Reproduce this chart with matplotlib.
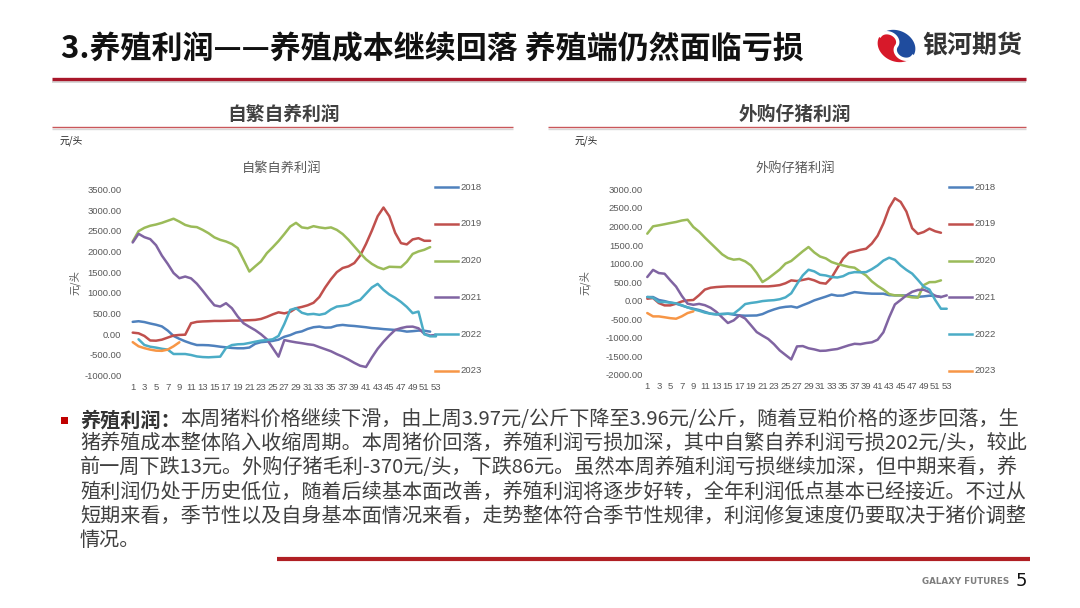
import matplotlib
matplotlib.use("Agg")
import matplotlib.pyplot as plt
import numpy as np
from matplotlib.lines import Line2D
from matplotlib.patches import Rectangle, Polygon
from matplotlib.transforms import Affine2D

W, H = 1080, 608
CJK = ['Noto Sans CJK SC', 'DejaVu Sans']
plt.rcParams['font.family'] = CJK

# ---------------- data ----------------
years = ['2018', '2019', '2020', '2021', '2022', '2023']
weeks = list(range(1, 54))
week_ticks = list(range(1, 54, 2))
nan = np.nan

# 自繁自养利润 (元/头)
self_2018 = [300, 315, 295, 260, 230, 190, 90, -40, -110, -170, -220, -260, -260, -265, -280, -300,
             -315, -330, -338, -338, -320, -230, -190, -177, -160, -130, -60, -20, 40, 70, 130, 170,
             185, 160, 165, 210, 226, 210, 200, 185, 170, 150, 140, 125, 115, 105, 90, 64, 75, 89, 85, 64]
self_2019 = [40, 24, -40, -150, -155, -130, -80, -30, -16, -10, 266, 300, 310, 315, 322, 322, 325, 330,
             330, 335, 340, 347, 370, 420, 480, 530, 505, 540, 629, 660, 700, 760, 900, 1130, 1330, 1500,
             1600, 1640, 1720, 1900, 2180, 2500, 2850, 3060, 2850, 2450, 2200, 2170, 2290, 2320, 2257, 2257]
self_2020 = [2240, 2490, 2570, 2620, 2650, 2690, 2740, 2790, 2720, 2640, 2600, 2587, 2520, 2440, 2340,
             2280, 2240, 2180, 2080, 1800, 1515, 1640, 1760, 1958, 2100, 2250, 2420, 2600, 2690, 2580,
             2560, 2610, 2580, 2560, 2580, 2520, 2420, 2280, 2120, 1960, 1810, 1700, 1620, 1572, 1630,
             1625, 1620, 1750, 1940, 2000, 2040, 2104]
self_2021 = [2216, 2426, 2345, 2297, 2150, 1900, 1700, 1480, 1354, 1394, 1350, 1220, 1050, 870, 700, 669,
             750, 630, 430, 266, 180, 100, 0, -121, -330, -540, -140, -170, -195, -215, -240, -258, -310,
             -360, -410, -480, -540, -610, -690, -760, -790, -560, -350, -180, -30, 105, 150, 180, 185,
             145, 10, -30, -16]
self_2022 = [nan, -121, -258, -300, -322, -350, -370, -476, -476, -476, -500, -535, -550, -556, -548, -540,
             -330, -260, -242, -236, -210, -180, -153, -140, -121, -40, 250, 588, 630, 520, 480, 492, 470,
             500, 600, 669, 685, 710, 780, 830, 980, 1130, 1217, 1072, 960, 880, 780, 660, 510, 548, 0,
             -50, -50]
self_2023 = [-190, -290, -335, -370, -395, -400, -370, -290, -193]

# 外购仔猪利润 (元/头)
buy_2018 = [99, 99, 20, -10, -50, -80, -130, -180, -216, -250, -300, -350, -365, -362, -350, -375, -395,
            -403, -400, -397, -360, -290, -235, -189, -165, -153, -185, -120, -60, 10, 60, 110, 165, 135,
            140, 190, 233, 215, 200, 190, 189, 189, 150, 144, 144, 140, 120, 105, 117, 135, 130, 99]
buy_2019 = [54, 72, -63, -126, -126, -80, -20, 9, 20, 150, 300, 350, 368, 378, 386, 386, 386, 386, 386,
            386, 386, 386, 400, 420, 470, 548, 530, 560, 593, 548, 480, 460, 620, 880, 1131, 1290, 1330,
            1370, 1400, 1540, 1750, 2080, 2500, 2760, 2660, 2400, 1950, 1800, 1850, 1940, 1870, 1830]
buy_2020 = [1805, 2003, 2030, 2060, 2092, 2120, 2160, 2182, 1985, 1860, 1700, 1550, 1400, 1250, 1150,
            1105, 1123, 1060, 950, 750, 503, 600, 720, 840, 1000, 1070, 1200, 1330, 1446, 1300, 1190,
            1140, 1042, 990, 950, 910, 889, 780, 680, 520, 400, 300, 180, 144, 144, 120, 90, 81, 420,
            500, 503, 548]
buy_2021 = [638, 830, 745, 727, 548, 380, 130, -80, -110, -85, -120, -190, -300, -450, -600, -530, -395,
            -480, -660, -844, -940, -1030, -1170, -1338, -1460, -1580, -1230, -1221, -1280, -1310, -1350,
            -1345, -1320, -1300, -1250, -1200, -1160, -1170, -1140, -1120, -1050, -850, -450, -100, 20,
            144, 240, 290, 296, 230, 130, 99, 144]
buy_2022 = [100, 81, -36, -36, -50, -70, -120, -180, -230, -270, -320, -350, -368, -355, -350, -350, -230,
            -90, -60, -40, -10, 5, 15, 40, 90, 200, 450, 682, 835, 790, 700, 680, 638, 625, 660, 740, 770,
            765, 770, 850, 950, 1080, 1158, 1100, 950, 830, 730, 560, 380, 300, 20, -216, -216]
buy_2023 = [-332, -422, -422, -445, -470, -485, -420, -332, -287]

series_colors = ['#4F81BD', '#C0504D', '#9BBB59', '#8064A2', '#4BACC6', '#F79646']

title_main = '3.养殖利润——养殖成本继续回落 养殖端仍然面临亏损'
sub_left = '自繁自养利润'
sub_right = '外购仔猪利润'
unit = '元/头'
para_bold = '养殖利润：'
para_lines = [
    '本周猪料价格继续下滑，由上周3.97元/公斤下降至3.96元/公斤，随着豆粕价格的逐步回落，生',
    '猪养殖成本整体陷入收缩周期。本周猪价回落，养殖利润亏损加深，其中自繁自养利润亏损202元/头，较此',
    '前一周下跌13元。外购仔猪毛利-370元/头，下跌86元。虽然本周养殖利润亏损继续加深，但中期来看，养',
    '殖利润仍处于历史低位，随着后续基本面改善，养殖利润将逐步好转，全年利润低点基本已经接近。不过从',
    '短期来看，季节性以及自身基本面情况来看，走势整体符合季节性规律，利润修复速度仍要取决于猪价调整',
    '情况。',
]

# ---------------- figure ----------------
fig = plt.figure(figsize=(W / 100, H / 100), dpi=100)
fig.patch.set_facecolor('white')


def fx(x):
    return x / W


def fy(y):
    return 1 - y / H


def hline(x0, x1, y, color, lw):
    fig.add_artist(Line2D([fx(x0), fx(x1)], [fy(y), fy(y)], transform=fig.transFigure,
                          color=color, lw=lw, solid_capstyle='butt'))


def text(x, y, s, **kw):
    return fig.text(fx(x), fy(y), s, **kw)


# header
text(61, 49, title_main, fontsize=22.3, fontweight='black', color='#111111', va='center', ha='left')
hline(52, 1026, 81.5, '#cfcfcf', 1.2)
hline(52, 1026, 79.3, '#A8172A', 2.4)

# logo
lax = fig.add_axes([fx(877), fy(63), fx(916) - fx(877), fy(29) - fy(63)])
lax.set_xlim(-1.05, 1.05)
lax.set_ylim(-1.05, 1.05)
lax.axis('off')
t1 = np.linspace(np.pi / 2, -np.pi / 2, 40)
b1 = np.c_[0.5 * np.cos(t1), 0.5 + 0.5 * np.sin(t1)]
t2 = np.linspace(np.pi / 2, 3 * np.pi / 2, 40)
b2 = np.c_[0.5 * np.cos(t2), -0.5 + 0.5 * np.sin(t2)]
boundary = np.vstack([b1, b2])
tl = np.linspace(3 * np.pi / 2, np.pi / 2, 60)
tr = np.linspace(-np.pi / 2, np.pi / 2, 60)
red_poly = np.vstack([boundary, np.c_[np.cos(tl), np.sin(tl)]])
blue_poly = np.vstack([boundary, np.c_[np.cos(tr), np.sin(tr)]])
rot = Affine2D().rotate_deg(50).skew_deg(-10, 0) + lax.transData
lax.add_patch(Polygon(red_poly, closed=True, facecolor='#D7192A', edgecolor='none', transform=rot))
lax.add_patch(Polygon(blue_poly, closed=True, facecolor='#1F4C9E', edgecolor='none', transform=rot))
lax.plot(boundary[:, 0], boundary[:, 1], color='white', lw=2.4, transform=rot)
text(922, 45.5, '银河期货', fontsize=18, fontweight='bold', color='#333333', va='center', ha='left')

# sub headers
text(284, 114, sub_left, fontsize=13.5, fontweight='bold', color='#404040', ha='center', va='center')
text(795, 114, sub_right, fontsize=13.5, fontweight='bold', color='#404040', ha='center', va='center')
for x0, x1 in [(52, 513), (548, 1026)]:
    hline(x0, x1, 128.5, '#d9d9d9', 1.0)
    hline(x0, x1, 127, '#C9575A', 1.0)
text(60, 141, unit, fontsize=7, color='#222222', ha='left', va='center')
text(575, 141, unit, fontsize=7, color='#222222', ha='left', va='center')


def draw_chart(box, ylim, ystep, data, title, title_x, ylab_x, legend_x, ypad):
    l, r, t, b = box
    ax = fig.add_axes([fx(l), fy(b), fx(r) - fx(l), fy(t) - fy(b)])
    ax.patch.set_alpha(0)
    for vals, c in zip(data, series_colors):
        ax.plot(weeks[:len(vals)], vals, color=c, lw=1.8, solid_joinstyle='round', solid_capstyle='round')
    ax.set_xlim(0.5, 53.5)
    ax.set_ylim(*ylim)
    yt = list(range(ylim[0], ylim[1] + 1, ystep))
    ax.set_yticks(yt)
    ax.set_yticklabels([f'{v:.2f}' for v in yt], fontfamily='Liberation Sans')
    ax.set_xticks(week_ticks)
    ax.set_xticklabels([str(w) for w in week_ticks], fontfamily='Liberation Sans')
    for s in ax.spines.values():
        s.set_visible(False)
    ax.tick_params(length=0, labelsize=6.8, colors='#595959')
    ax.tick_params(axis='y', pad=ypad)
    ax.tick_params(axis='x', pad=5.0)
    text(title_x, 168, title, fontsize=9.5, color='#595959', ha='center', va='center')
    text(ylab_x, 283, unit, fontsize=7.5, color='#595959', ha='center', va='center', rotation=90)
    for i, (yr, c) in enumerate(zip(years, series_colors)):
        yy = 187.3 + 36.7 * i
        fig.add_artist(Line2D([fx(legend_x), fx(legend_x + 23)], [fy(yy), fy(yy)],
                              transform=fig.transFigure, color=c, lw=1.8))
        text(legend_x + 25, yy, yr, fontsize=6.8, color='#595959', ha='left', va='center',
             fontfamily='Liberation Sans')
    return ax


draw_chart((129.8, 438.9, 189.3, 375.7), (-1000, 3500), 500,
           [self_2018, self_2019, self_2020, self_2021, self_2022, self_2023],
           sub_left, 282, 75, 435, 6.0)
draw_chart((644.4, 949.6, 189.3, 375.0), (-2000, 3000), 500,
           [buy_2018, buy_2019, buy_2020, buy_2021, buy_2022, buy_2023],
           sub_right, 795, 585, 949, 1.0)

# paragraph
fig.add_artist(Rectangle((fx(61), fy(424)), fx(7), 7 / H, transform=fig.transFigure,
                         facecolor='#C00000', edgecolor='none'))
fs = 14.5
line_y = [420, 444, 468, 492, 516, 540]
renderer = fig.canvas.get_renderer()
tb = text(80, line_y[0], para_bold, fontsize=fs, fontweight='bold', color='#333333', va='center', ha='left')
x_after = tb.get_window_extent(renderer).x1
fig.text(x_after / W, fy(line_y[0]), para_lines[0], fontsize=fs, color='#404040', va='center', ha='left')
for ln, yy in zip(para_lines[1:], line_y[1:]):
    text(80, yy, ln, fontsize=fs, color='#404040', va='center', ha='left')

# footer
hline(277, 1030, 558.5, '#B01F24', 3.0)
text(922, 582, 'GALAXY FUTURES', fontsize=6.3, fontweight='bold', color='#7f7f7f', ha='left', va='center',
     fontfamily='DejaVu Sans')
text(1016, 581, '5', fontsize=13, color='#111111', ha='left', va='center', fontfamily='DejaVu Sans')

fig.savefig('out.png', dpi=100, facecolor='white')
